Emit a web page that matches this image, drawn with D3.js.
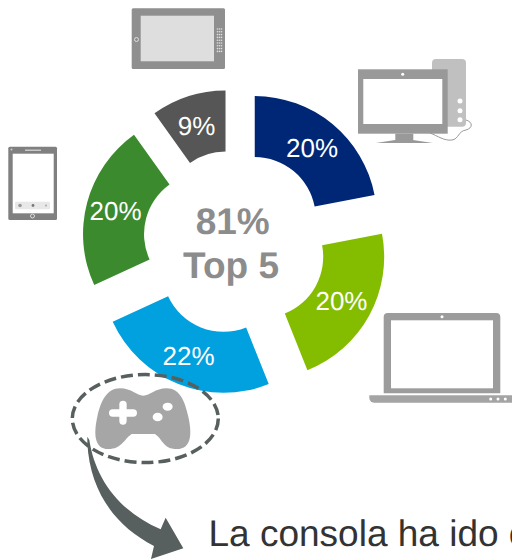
<!DOCTYPE html>
<html><head><meta charset="utf-8">
<script src="https://cdn.jsdelivr.net/npm/d3@7"></script>
<style>html,body{margin:0;padding:0;background:#fff;overflow:hidden}svg{display:block}text{font-family:"Liberation Sans",Arial,sans-serif;text-rendering:geometricPrecision}</style>
</head><body><svg id="c" width="512" height="560"></svg>
<script>
const categories=["PC","Portátil","Consola","Smartphone","Tablet"];
const shares=[20,20,22,20,9];
const colors=["#002776","#84bd00","#00a1de","#3c8a2e","#565656"];
const centerLines=["81%","Top 5"];
const caption="La consola ha ido c";

const svg=d3.select("#c");
const cx=235,cy=242,explode=31,rIn=61,rOut=122;
const pie=d3.pie().sort(null).value(d=>d.v);
const arc=d3.arc().innerRadius(rIn).outerRadius(rOut);
const rows=categories.map((c,i)=>({c,v:shares[i],col:colors[i]}));
const chart=svg.append("g").attr("transform",`translate(${cx},${cy})`);
const off=d=>{const m=(d.startAngle+d.endAngle)/2;return [Math.sin(m)*explode,-Math.cos(m)*explode]};
const seg=chart.selectAll("g").data(pie(rows)).join("g").attr("transform",d=>`translate(${off(d)})`);
seg.append("path").attr("d",arc).attr("fill",d=>d.data.col);
seg.append("text").attr("transform",d=>{const q=arc.centroid(d);return `translate(${q[0]-1},${q[1]})`}).attr("text-anchor","middle").attr("dy","0.36em")
  .attr("font-size",26).attr("fill","#fff").text(d=>d.data.v+"%");
chart.selectAll("text.c").data(centerLines).join("text").attr("class","c").attr("text-anchor","middle")
  .attr("x",(d,i)=>-2.3-i*1.7).attr("y",(d,i)=>-8.5+i*44).attr("font-size",37).attr("font-weight","bold").attr("fill","#8c8c8c").text(d=>d);

svg.append("text").attr("x",208.5).attr("y",546).attr("font-size",37).attr("fill","#333").text(caption);

// device pictograms
const R=(g,x,y,w,h,f,r)=>g.append("rect").attr("x",x).attr("y",y).attr("width",w).attr("height",h).attr("fill",f).attr("rx",r||0);
const C=(g,x,y,r,f)=>g.append("circle").attr("cx",x).attr("cy",y).attr("r",r).attr("fill",f);
// tablet
const t=svg.append("g");
R(t,131.7,8.3,93.3,60.7,"#8f8f8f",1.5);R(t,140.7,15.7,73.3,45.6,"#dedede");
t.append("circle").attr("cx",136.5).attr("cy",39.5).attr("r",2).attr("fill","none").attr("stroke","#ddd").attr("stroke-width",1);
d3.range(9).forEach(i=>d3.range(3).forEach(j=>C(t,217.5+j*2,29+i*2.8,0.8,"#dedede")));
// phone
const p=svg.append("g");
R(p,8.3,146.7,48.7,73.3,"#808080",1.5);R(p,12.7,153.7,41,59.6,"#fff");
R(p,15,201.7,35,7.6,"#e8e8e8",1);R(p,25,149.5,16,1.5,"#c8c8c8");
p.append("circle").attr("cx",32.5).attr("cy",216).attr("r",2).attr("fill","none").attr("stroke","#ddd").attr("stroke-width",1);
C(p,11.5,149.5,1,"#ccc");C(p,20,205.5,1.8,"#999");C(p,33,205.5,1.4,"#777");C(p,46,205.5,1,"#aaa");
// desktop
const k=svg.append("g");
R(k,432,59,34,67.7,"#c0c0c0",4);
[101,110.7,119.7].forEach(y=>C(k,460,y,2.5,"#fff"));
R(k,358,69.3,89.7,64.4,"#999");R(k,363.3,79,79,45,"#fff");C(k,402.7,74.3,1.5,"#fff");
R(k,395.3,133.7,18,6.5,"#999");
k.append("path").attr("d","M376 143L395 140H413L432.7 143Z").attr("fill","#999");
k.append("path").attr("d","M430 133C438 136 444 141 452 140C459 139 458 131 466 130C473 128 473 122 466 120").attr("fill","none").attr("stroke","#999").attr("stroke-width",1);
// laptop
const l=svg.append("g");
l.append("path").attr("d","M383.7 393.3V317a4 4 0 0 1 4-4H496.3a4 4 0 0 1 4 4V393.3Z").attr("fill","#9c9c9c");
R(l,391,320.3,102,68,"#fff");C(l,442,316.7,1.5,"#fff");
l.append("path").attr("d","M369.3 395.3H512V402.7H374a4.7 4.7 0 0 1-4.7-4.7Z").attr("fill","#a4a4a4");
[490.7,498,505.3].forEach(x=>C(l,x,399,1.5,"#fff"));
// gamepad
const g=svg.append("g").attr("transform","translate(0,280) scale(0.3333)");
g.append("path").attr("d","M360 325C395 325 410 347 430 347C450 347 465 325 500 325C540 325 555 365 565 410C575 455 578 507 530 507C490 507 490 480 465 462L395 462C370 480 365 507 325 507C280 507 282 455 292 410C302 365 320 325 360 325Z").attr("fill","#a6a6a6");
R(g,327,388,84,22,"#fff",11);R(g,358,362,22,72,"#fff",11);
g.append("ellipse").attr("cx",503).attr("cy",380).attr("rx",15).attr("ry",12).attr("fill","#fff");
g.append("ellipse").attr("cx",473).attr("cy",411).attr("rx",15).attr("ry",13).attr("fill","#fff");
// callout
svg.append("ellipse").attr("cx",145.3).attr("cy",418.6).attr("rx",73).attr("ry",44).attr("fill","none")
  .attr("stroke","#575f5f").attr("stroke-width",3.5).attr("stroke-dasharray","12 5");
g.append("path").attr("d","M262 470L268 480C285 590 350 690 482 748L497 713L550 805L453 837L462 798C340 735 270 630 262 490Z").attr("fill","#575f5f");
</script></body></html>
